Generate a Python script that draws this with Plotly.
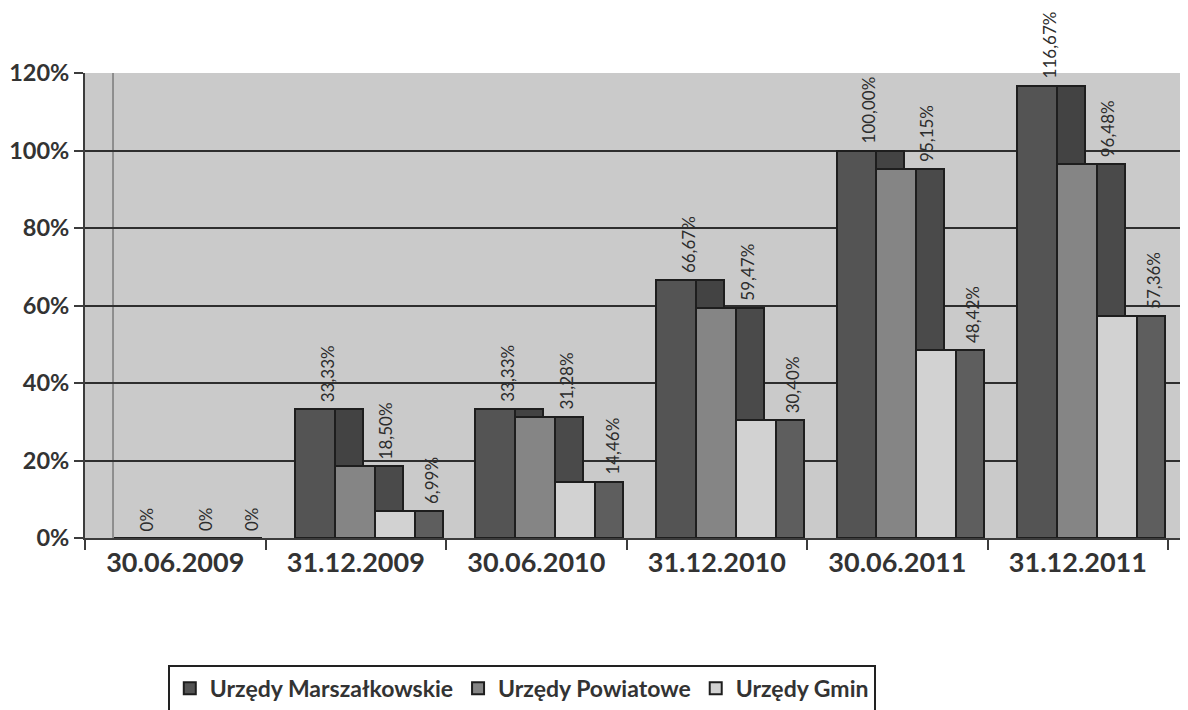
import plotly.graph_objects as go

categories = ["30.06.2009", "31.12.2009", "30.06.2010", "31.12.2010", "30.06.2011", "31.12.2011"]
series_names = ["Urzędy Marszałkowskie", "Urzędy Powiatowe", "Urzędy Gmin"]
marszalkowskie = [0.0, 33.33, 33.33, 66.67, 100.00, 116.67]
powiatowe = [0.0, 18.50, 31.28, 59.47, 95.15, 96.48]
gmin = [0.0, 6.99, 14.46, 30.40, 48.42, 57.36]
y_ticks = [0, 20, 40, 60, 80, 100, 120]
y_tick_labels = ["0%", "20%", "40%", "60%", "80%", "100%", "120%"]

series_values = [marszalkowskie, powiatowe, gmin]

# style
front_colors = ["#545454", "#858585", "#d2d2d2"]
side_colors = ["#434343", "#4a4a4a", "#5e5e5e"]
edge = "#1e1e1e"
FONT = "Lato"
front_w = 0.221
side_w = 0.155
first_off = -0.337
label_off = [-0.16, 0.165, 0.42]

xpos = list(range(len(categories)))

fig = go.Figure()
for j, (name, vals) in enumerate(zip(series_names, series_values)):
    off = first_off + j * front_w
    fig.add_trace(go.Bar(
        x=xpos, y=vals, name=name, width=front_w, offset=off,
        marker=dict(color=front_colors[j], line=dict(color=edge, width=2)),
        showlegend=True, hoverinfo="skip",
    ))
    fig.add_trace(go.Bar(
        x=xpos, y=vals, name=name + " (bok)", width=side_w, offset=off + front_w,
        marker=dict(color=side_colors[j], line=dict(color=edge, width=2)),
        showlegend=False, hoverinfo="skip",
    ))


def fmt(v):
    if v == 0:
        return "0%"
    return f"{v:.2f}%".replace(".", ",")


annotations = []
for j, vals in enumerate(series_values):
    for i, v in enumerate(vals):
        annotations.append(dict(
            x=xpos[i] + label_off[j], y=v, xref="x", yref="y",
            text=fmt(v), showarrow=False, textangle=-90,
            xanchor="center", yanchor="bottom", yshift=5,
            font=dict(family=FONT, size=17, color="#2c2c2c"),
        ))

fig.update_layout(
    width=1188, height=710,
    margin=dict(l=77, r=8, t=65, b=179),
    paper_bgcolor="white",
    plot_bgcolor="#cacaca",
    barmode="overlay",
    bargap=0,
    annotations=annotations,
    shapes=[dict(type="line", xref="paper", yref="paper", x0=0.0254, x1=0.0254,
                 y0=0, y1=1, line=dict(color="#7a7a7a", width=1.5), layer="below")],
    legend=dict(
        orientation="h", x=0.396, xanchor="center", y=-0.27, yanchor="top",
        bordercolor="#222222", borderwidth=2, bgcolor="white",
        font=dict(family=FONT, size=23, color="#333333", weight="bold"),
        traceorder="normal",
    ),
    showlegend=True,
)
fig.update_xaxes(
    range=[-0.5, 5.61], tickvals=xpos, ticktext=categories, automargin=False,
    showgrid=False, zeroline=False, showline=True, linecolor="#3c3c3c", linewidth=2,
    ticks="", tickfont=dict(family=FONT, size=27, color="#333333", weight="bold"),
    minor=dict(tick0=-0.5, dtick=1, ticks="outside", ticklen=10, tickcolor="#3c3c3c",
               tickwidth=2, showgrid=False),
)
fig.update_yaxes(
    range=[0, 120], tickvals=y_ticks, ticktext=y_tick_labels, automargin=False,
    showgrid=True, gridcolor="#2e2e2e", gridwidth=2, zeroline=False,
    showline=True, linecolor="#3c3c3c", linewidth=2,
    ticks="outside", ticklen=9, tickcolor="#3c3c3c", tickwidth=2,
    tickfont=dict(family=FONT, size=23.5, color="#333333", weight="bold"),
)

fig.write_html("out.html")
